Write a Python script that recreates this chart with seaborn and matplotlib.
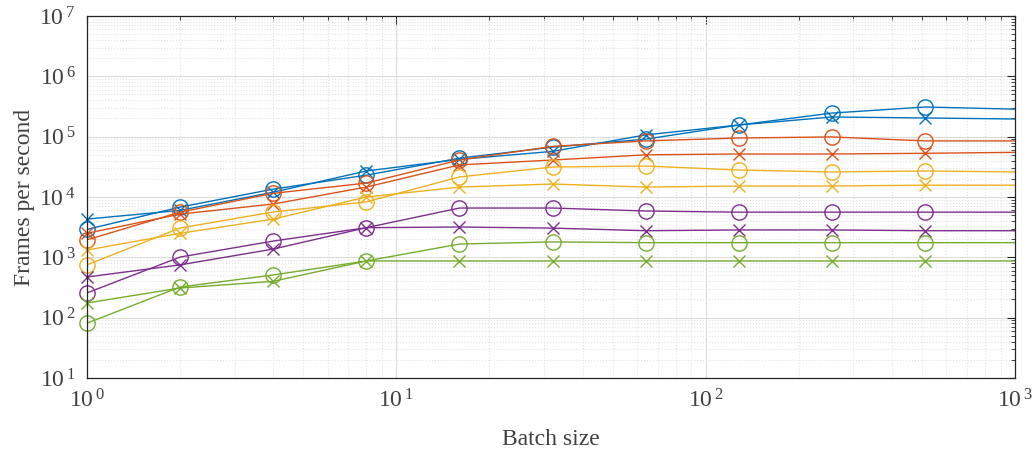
import numpy as np
import pandas as pd
import seaborn as sns
import matplotlib.pyplot as plt
from matplotlib.ticker import LogLocator, FuncFormatter, NullFormatter

batch = [1, 2, 4, 8, 16, 32, 64, 128, 256, 512, 1024]

blue_o = [2900, 6800, 13500, 23000, 44000, 67000, 91000, 156000, 246000, 310000, 285000]
blue_x = [4300, 6000, 12000, 27000, 42000, 57000, 107000, 156000, 212000, 204000, 196000]
red_o = [1950, 5600, 11500, 17000, 41000, 69000, 85000, 95000, 99000, 85000, 85000]
red_x = [2500, 5200, 7650, 14600, 34000, 41000, 50000, 51600, 51600, 53000, 55000]
yellow_o = [750, 3060, 5640, 8300, 21500, 31400, 32600, 28000, 26000, 27000, 26000]
yellow_x = [1320, 2500, 4300, 10000, 14600, 16400, 14600, 15200, 15200, 15700, 15700]
purple_o = [257, 1010, 1860, 3100, 6560, 6560, 5860, 5600, 5600, 5600, 5600]
purple_x = [472, 750, 1370, 3100, 3180, 3050, 2760, 2840, 2840, 2760, 2760]
green_o = [81, 322, 510, 870, 1660, 1800, 1750, 1750, 1750, 1750, 1750]
green_x = [175, 310, 400, 870, 870, 870, 870, 870, 870, 870, 870]

series = [
    (blue_o, '#0072BD', 'o'), (blue_x, '#0072BD', 'x'),
    (red_o, '#D95319', 'o'), (red_x, '#D95319', 'x'),
    (yellow_o, '#EDB120', 'o'), (yellow_x, '#EDB120', 'x'),
    (purple_o, '#7E2F8E', 'o'), (purple_x, '#7E2F8E', 'x'),
    (green_o, '#77AC30', 'o'), (green_x, '#77AC30', 'x'),
]

sns.set_style('white')
plt.rcParams['font.family'] = ['Liberation Serif', 'DejaVu Serif']
plt.rcParams['mathtext.fontset'] = 'custom'
plt.rcParams['mathtext.rm'] = 'Liberation Serif'
plt.rcParams['mathtext.default'] = 'regular'

fig = plt.figure(figsize=(10.34, 4.57), dpi=100)
ax = fig.add_axes([0.0841, 0.1729, 0.8975, 0.7921])

XMAX = 1000
for vals, col, mk in series:
    df = pd.DataFrame({'batch': batch, 'fps': vals})
    # line clipped to the axes, markers only where the point is inside (MATLAB style)
    sns.lineplot(data=df, x='batch', y='fps', ax=ax, color=col, linewidth=1.0)
    inside = df[df['batch'] <= XMAX]
    sns.lineplot(data=inside, x='batch', y='fps', ax=ax, color=col, linestyle='none',
                 marker=mk, markersize=11 if mk == 'o' else 9,
                 markerfacecolor='none', markeredgecolor=col, markeredgewidth=1.0,
                 clip_on=False)

ax.set_xscale('log')
ax.set_yscale('log')
ax.set_xlim(1, XMAX)
ax.set_ylim(10, 1e7)

fmt = FuncFormatter(lambda v, pos: r'$10^{\,%d}$' % round(np.log10(v)))
ax.xaxis.set_major_locator(LogLocator(base=10, numticks=10))
ax.yaxis.set_major_locator(LogLocator(base=10, numticks=10))
ax.xaxis.set_minor_locator(LogLocator(base=10, subs=np.arange(2, 10), numticks=100))
ax.yaxis.set_minor_locator(LogLocator(base=10, subs=np.arange(2, 10), numticks=100))
ax.xaxis.set_major_formatter(fmt)
ax.yaxis.set_major_formatter(fmt)
ax.xaxis.set_minor_formatter(NullFormatter())
ax.yaxis.set_minor_formatter(NullFormatter())

ax.grid(True, which='major', color='#dcdcdc', linewidth=0.8)
ax.grid(True, which='minor', color='#e2e2e2', linestyle=':', linewidth=0.8)
ax.set_axisbelow(True)

ax.tick_params(which='both', direction='in', top=True, right=True, colors='#262626',
               labelcolor='#404040', labelsize=17)
ax.tick_params(which='major', length=6, width=0.8, pad=8)
ax.tick_params(which='minor', length=3, width=0.6)
for s in ax.spines.values():
    s.set_color('#262626')
    s.set_linewidth(0.9)

ax.set_xlabel('Batch size', fontsize=17, color='#404040', labelpad=12)
ax.set_ylabel('Frames per second', fontsize=17, color='#404040', labelpad=3)

fig.savefig('out.png', dpi=100)
